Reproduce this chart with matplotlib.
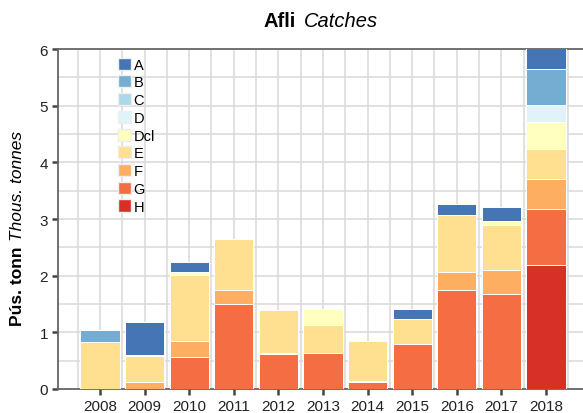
import matplotlib
matplotlib.use('Agg')
import matplotlib.pyplot as plt
import numpy as np
from matplotlib.patches import Patch

plt.rcParams['font.family'] = ['Liberation Sans', 'DejaVu Sans']

years = [2008, 2009, 2010, 2011, 2012, 2013, 2014, 2015, 2016, 2017, 2018]

# catches per category, thousand tonnes
H = [0, 0, 0, 0, 0, 0, 0, 0, 0, 0, 2.19]
G = [0, 0, 0.56, 1.50, 0.62, 0.63, 0.13, 0.79, 1.75, 1.68, 0.98]
F = [0, 0.12, 0.28, 0.24, 0.02, 0, 0.01, 0, 0.32, 0.42, 0.54]
E = [0.83, 0.47, 1.17, 0.91, 0.76, 0.50, 0.70, 0.44, 1.01, 0.80, 0.52]
Dcl = [0, 0.01, 0.06, 0, 0, 0.28, 0, 0, 0, 0.07, 0.49]
D = [0, 0, 0, 0, 0, 0, 0, 0, 0, 0, 0.30]
C = [0, 0, 0, 0, 0, 0, 0, 0, 0, 0, 0]
B = [0.21, 0, 0, 0, 0, 0, 0, 0, 0, 0, 0.63]
A = [0, 0.58, 0.17, 0, 0, 0, 0, 0.18, 0.19, 0.25, 0.38]

names = ['H', 'G', 'F', 'E', 'Dcl', 'D', 'C', 'B', 'A']
series = [H, G, F, E, Dcl, D, C, B, A]
colors = ['#d73027', '#f46d43', '#fdae61', '#fee090', '#ffffbf',
          '#e0f3f8', '#abd9e9', '#74add1', '#4575b4']

fig = plt.figure(figsize=(5.83, 4.14), dpi=100)
ax = fig.add_axes([0.1, 0.058, 0.9, 0.821])

x = np.array(years)
bottom = np.zeros(len(years))
for name, vals, col in zip(names, series, colors):
    ax.bar(x, vals, 0.88, bottom=bottom, color=col, edgecolor='white',
           linewidth=0.7, zorder=3)
    bottom += np.array(vals)

ax.set_xlim(2007.065, 2018.83)
ax.set_ylim(0, 6)
ax.set_xticks(years)
ax.set_xticks(np.arange(2007.5, 2019, 1), minor=True)
ax.set_yticks(range(0, 7))
ax.set_yticks(np.arange(0.5, 6, 1), minor=True)
ax.grid(True, which='both', color='#d9d9d9', linewidth=1.1, zorder=0)
ax.set_axisbelow(True)

for s in ['left', 'bottom', 'top']:
    ax.spines[s].set_color('#666666')
    ax.spines[s].set_linewidth(1.3)
ax.spines['right'].set_visible(False)
ax.tick_params(which='major', length=4, width=1.8, color='#444444',
               labelsize=11, labelcolor='#222222')
ax.tick_params(which='minor', length=0)

handles = [Patch(facecolor=c, edgecolor='#eeeeee', label=n)
           for n, c in zip(names[::-1], colors[::-1])]
ax.legend(handles=handles, loc='upper left', bbox_to_anchor=(0.095, 1.005),
          frameon=False, fontsize=10.5, handlelength=0.9, handleheight=0.9,
          handletextpad=0.15, labelspacing=0.25, borderaxespad=0.3)

fig.text(0.507, 0.948, 'Afli', fontsize=14.5, fontweight='bold', ha='right',
         va='center')
fig.text(0.521, 0.948, 'Catches', fontsize=14.5, fontstyle='italic',
         ha='left', va='center')

fig.text(0.03, 0.405, 'Pús. tonn', fontsize=12.5, fontweight='bold',
         rotation=90, ha='center', va='top')
fig.text(0.03, 0.418, 'Thous. tonnes', fontsize=12.5, fontstyle='italic',
         rotation=90, ha='center', va='bottom')

fig.savefig('out.png', dpi=100)
